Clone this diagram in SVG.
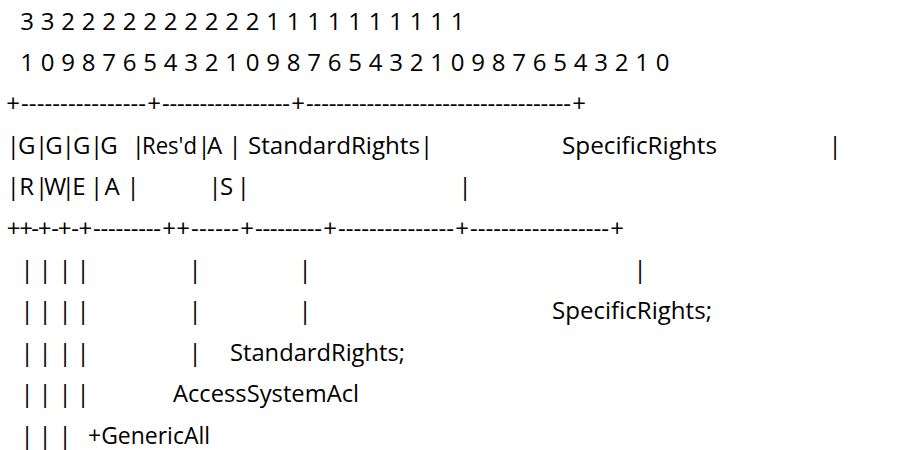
<svg xmlns="http://www.w3.org/2000/svg" width="905" height="450" viewBox="0 0 905 450">
<style>
text{font-family:"Open Sans","Noto Sans","DejaVu Sans",sans-serif;font-size:24px;fill:#000}
.c{text-anchor:middle}
</style>
<rect width="905" height="450" fill="#fff"/>
<g id="bit-numbers">
<text class="c" y="29.5" x="27 47.5 68 88.5 109 129.5 150 170.5 191 211.5 232 252.5 273 293.5 314 334.5 355 375.5 396 416.5 437 457.5">3322222222221111111111</text>
<text class="c" y="70.9" x="27 47.5 68 88.5 109 129.5 150 170.5 191 211.5 232 252.5 273 293.5 314 334.5 355 375.5 396 416.5 437 457.5 478 498.5 519 539.5 560 580.5 601 621.5 642 662.5">10987654321098765432109876543210</text>
</g>
<g id="top-border">
<text class="c" y="112.3" x="13">+</text>
<text y="112.3" x="21" textLength="125" lengthAdjust="spacing">----------------</text>
<text class="c" y="112.3" x="154">+</text>
<text y="112.3" x="162" textLength="128" lengthAdjust="spacing">-----------------</text>
<text class="c" y="112.3" x="298">+</text>
<text y="112.3" x="306" textLength="265" lengthAdjust="spacing">-----------------------------------</text>
<text class="c" y="112.3" x="579">+</text>
</g>
<g id="fields-row1">
<text class="c" y="153.7" x="13.3 26.7 41.7 54 68.3 81.7 96.7 109 138.3">|G|G|G|G|</text>
<text y="153.7" x="142" textLength="55" lengthAdjust="spacingAndGlyphs">Res'd</text>
<text class="c" y="153.7" x="204 214.5 235">|A|</text>
<text y="153.7" x="248" textLength="172" lengthAdjust="spacingAndGlyphs">StandardRights</text>
<text class="c" y="153.7" x="426.7">|</text>
<text y="153.7" x="562" textLength="155" lengthAdjust="spacingAndGlyphs">SpecificRights</text>
<text class="c" y="153.7" x="835">|</text>
</g>
<g id="fields-row2">
<text class="c" y="195.1" x="13.3 26.7 41.7 55 68.3 79 96.7 112 133">|R|W|E|A|</text>
<text class="c" y="195.1" x="215 226.7 243.3">|S|</text>
<text class="c" y="195.1" x="465">|</text>
</g>
<g id="bottom-border">
<text class="c" y="236.5" x="13.5 26 35 44.5 55 64.7 75 85.3">++-+-+-+</text>
<text y="236.5" x="93" textLength="68" lengthAdjust="spacing">---------</text>
<text class="c" y="236.5" x="169 183">++</text>
<text y="236.5" x="191" textLength="48" lengthAdjust="spacing">------</text>
<text class="c" y="236.5" x="247">+</text>
<text y="236.5" x="255" textLength="67" lengthAdjust="spacing">---------</text>
<text class="c" y="236.5" x="330">+</text>
<text y="236.5" x="338" textLength="116" lengthAdjust="spacing">---------------</text>
<text class="c" y="236.5" x="462">+</text>
<text y="236.5" x="470" textLength="139" lengthAdjust="spacing">------------------</text>
<text class="c" y="236.5" x="617">+</text>
</g>
<g id="connectors">
<text class="c" y="277.9" x="27 45 65 83 195 305 640">|||||||</text>
<text class="c" y="319.3" x="27 45 65 83 195 305">||||||</text>
<text class="c" y="360.7" x="27 45 65 83 195">|||||</text>
<text class="c" y="402.1" x="27 45 65 83">||||</text>
<text class="c" y="443.5" x="27 45 65">|||</text>
</g>
<g id="label-specific">
<text y="319.3" x="552" textLength="160" lengthAdjust="spacingAndGlyphs">SpecificRights;</text>
</g>
<g id="label-standard">
<text y="360.7" x="230" textLength="175" lengthAdjust="spacingAndGlyphs">StandardRights;</text>
</g>
<g id="label-acl">
<text y="402.1" x="173" textLength="186" lengthAdjust="spacingAndGlyphs">AccessSystemAcl</text>
</g>
<g id="label-genericall">
<text y="443.5" x="88" textLength="122" lengthAdjust="spacingAndGlyphs">+GenericAll</text>
</g>
</svg>
